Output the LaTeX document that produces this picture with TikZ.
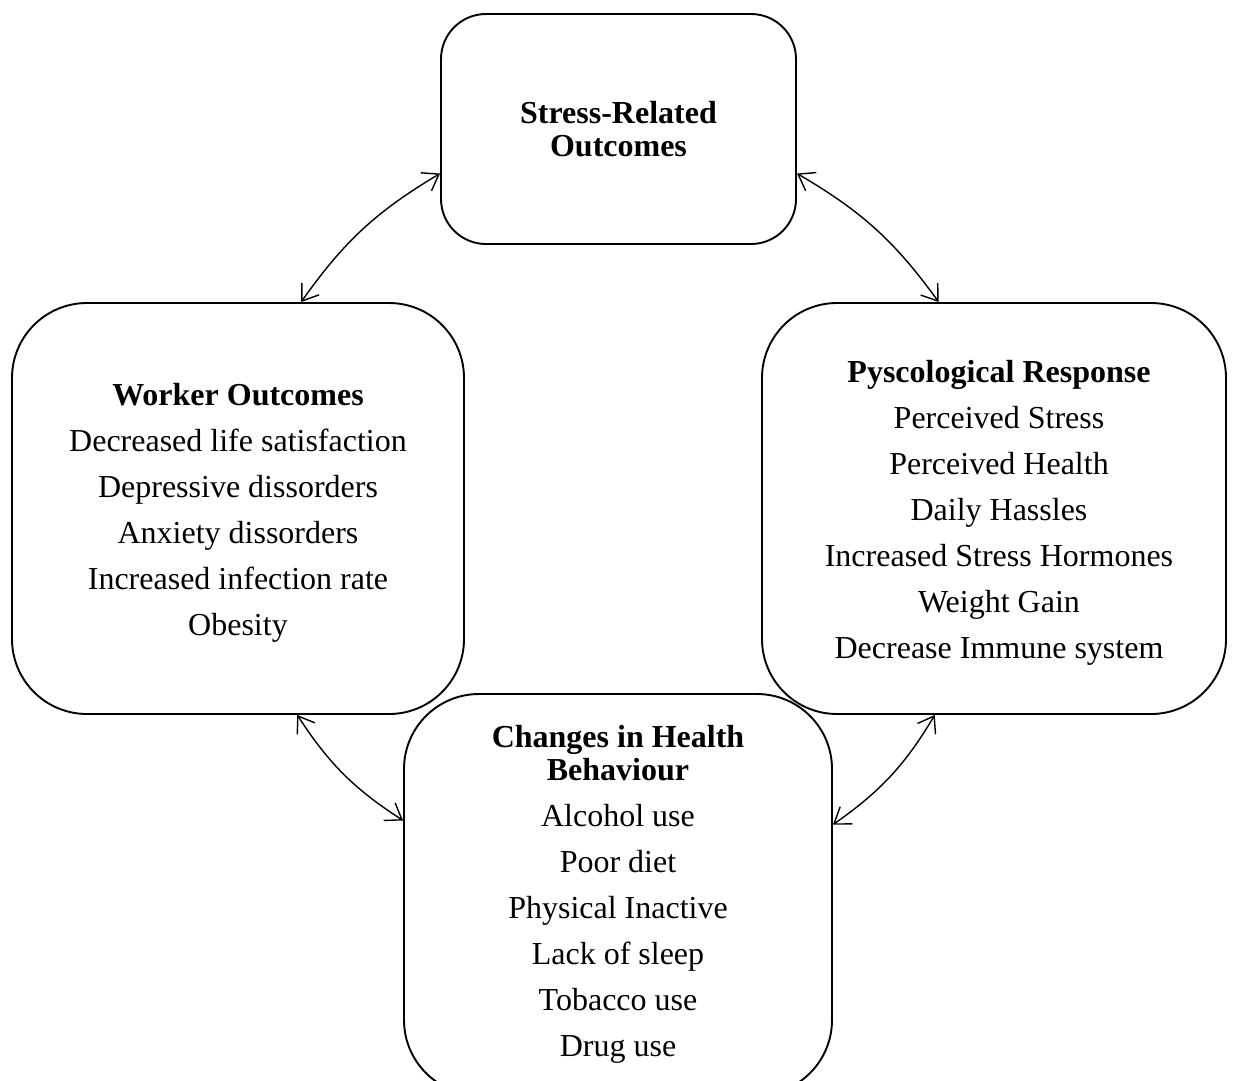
\documentclass[tikz,border=0pt]{standalone}
\usepackage{fontspec}
\setmainfont{Liberation Serif}
\usetikzlibrary{arrows.meta}
\newcommand{\topstrut}{\rule{0pt}{30pt}}
\newcommand{\tabtopstrut}{\rule{0pt}{38pt}}
\begin{document}
\begin{tikzpicture}[x=1pt,y=-1pt,
  box/.style={draw, line width=1.9pt, inner sep=0pt, align=center,
    font=\fontsize{32}{46}\selectfont},
  link/.style={line width=1.4pt, {Straight Barb[length=15pt,width=21pt]}-{Straight Barb[length=15pt,width=21pt]}, bend left=12}]
  \clip (0,0) rectangle (1238,1080);
  \useasboundingbox (0,0) rectangle (1238,1080);

  \node[box, rounded corners=45pt, minimum width=355pt, minimum height=230pt] (top) at (618.5,129)
    {\textbf{Stress-Related}\\[-13pt]\textbf{Outcomes}};

  \node[box, rounded corners=75pt, minimum width=452pt, minimum height=411pt] (left) at (238,508.5)
    {\topstrut\textbf{Worker Outcomes}\\
     Decreased life satisfaction\\
     Depressive dissorders\\
     Anxiety dissorders\\
     Increased infection rate\\
     Obesity};

  \node[box, rounded corners=75pt, minimum width=464pt, minimum height=411pt] (right) at (994,508.5)
    {\begin{tabular}{@{\hspace{10pt}}c@{}}
     \tabtopstrut\textbf{Pyscological Response}\\
     Perceived Stress\\
     Perceived Health\\
     Daily Hassles\\
     Increased Stress Hormones\\
     Weight Gain\\
     Decrease Immune system
     \end{tabular}};

  \node[box, rounded corners=75pt, minimum width=428pt, minimum height=401pt] (bottom) at (618,894.5)
    {\textbf{Changes in Health}\\[-13pt]\textbf{Behaviour}\\
     Alcohol use\\
     Poor diet\\
     Physical Inactive\\
     Lack of sleep\\
     Tobacco use\\
     Drug use};

  \draw[link] (left.73) to (top.194.6);
  \draw[link] (top.-14.3) to (right.105.5);
  \draw[link] (right.254.6) to (bottom.18.6);
  \draw[link] (bottom.161.4) to (left.286.7);
\end{tikzpicture}
\end{document}
